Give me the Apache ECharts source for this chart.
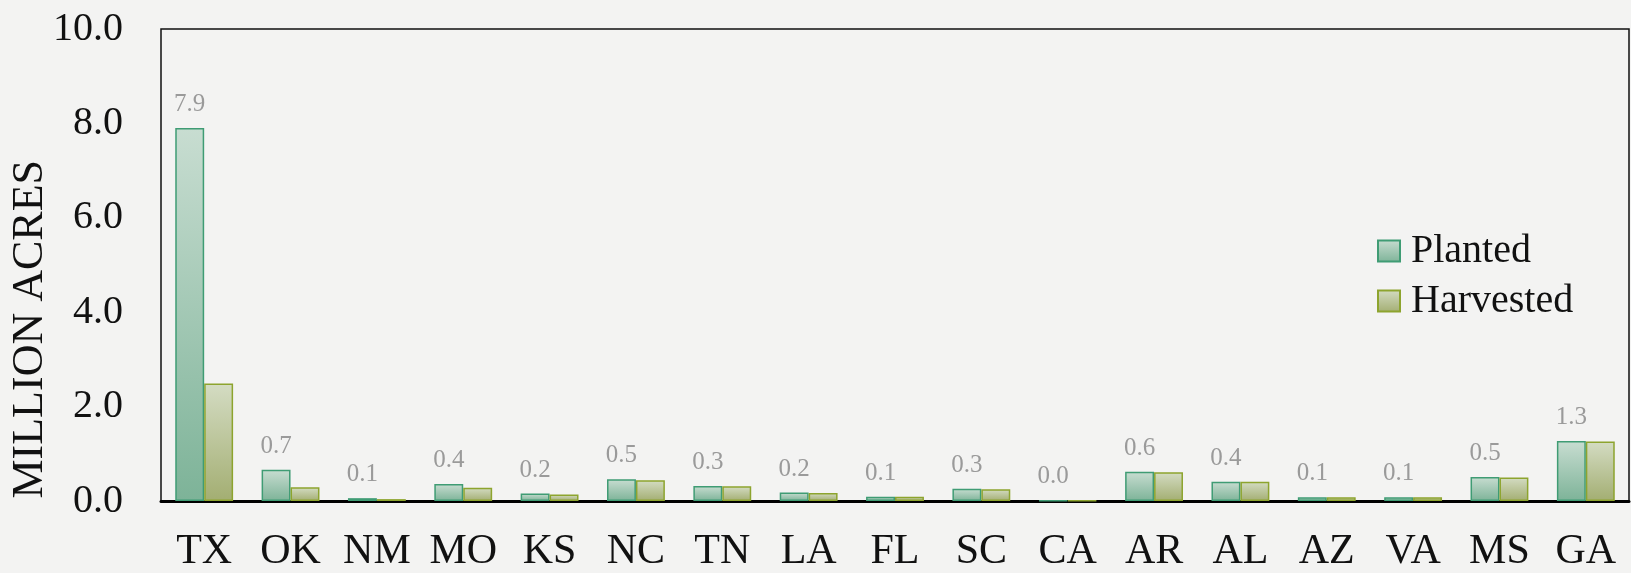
<!DOCTYPE html>
<html>
<head>
<meta charset="utf-8">
<script src="https://cdn.jsdelivr.net/npm/echarts@6/dist/echarts.min.js"></script>
<style>
  html, body { margin: 0; padding: 0; background: #f3f3f2; }
  #acres_chart { width: 1631px; height: 573px; }
</style>
</head>
<body>
<div id="acres_chart"></div>
<script>
// 各州种植 / 收获面积（百万英亩）
var states = ['TX', 'OK', 'NM', 'MO', 'KS', 'NC', 'TN', 'LA', 'FL', 'SC', 'CA', 'AR', 'AL', 'AZ', 'VA', 'MS', 'GA'];
var planted_data = [7.9, 0.66, 0.06, 0.36, 0.16, 0.46, 0.32, 0.18, 0.09, 0.26, 0.01, 0.62, 0.41, 0.08, 0.08, 0.51, 1.27];
var harvested_data = [2.49, 0.29, 0.04, 0.28, 0.14, 0.44, 0.31, 0.17, 0.09, 0.25, 0.01, 0.61, 0.41, 0.08, 0.08, 0.50, 1.26];
var y_ticks = [0, 2, 4, 6, 8, 10];

var serif = '"Liberation Serif", "DejaVu Serif", serif';

function barGradient(top, bottom) {
    return new echarts.graphic.LinearGradient(0, 0, 0, 1, [
        { offset: 0, color: top },
        { offset: 1, color: bottom }
    ]);
}

let acres_option = {
    backgroundColor: '#f3f3f2',
    animation: false,
    legend: {
        orient: 'vertical',
        left: 1372,
        top: 226,
        icon: 'rect',
        itemWidth: 22,
        itemHeight: 21,
        itemGap: 10,
        textStyle: {
            color: '#111',
            fontFamily: serif,
            fontSize: 40,
            padding: [0, 0, 0, 6]
        },
        data: ['Planted', 'Harvested']
    },
    graphic: [{
        type: 'text',
        left: 8,
        top: 160,
        rotation: Math.PI / 2,
        style: {
            text: 'MILLION ACRES',
            fill: '#111',
            font: '44px ' + serif
        }
    }],
    grid: {
        left: 161,
        right: 2,
        top: 29,
        bottom: 72,
        show: true,
        borderColor: '#111',
        borderWidth: 1.5,
        backgroundColor: 'transparent'
    },
    xAxis: {
        type: 'category',
        data: states,
        axisLine: { lineStyle: { color: '#000', width: 3 } },
        axisTick: { show: false },
        axisLabel: {
            interval: 0,
            color: '#111',
            fontFamily: serif,
            fontSize: 42,
            margin: 30
        }
    },
    yAxis: {
        type: 'value',
        min: y_ticks[0],
        max: y_ticks[y_ticks.length - 1],
        interval: 2,
        axisLine: { show: false },
        axisTick: { show: false },
        splitLine: { show: false },
        axisLabel: {
            color: '#111',
            fontFamily: serif,
            fontSize: 40,
            margin: 38,
            formatter: function (v) { return v.toFixed(1); }
        }
    },
    series: [
        {
            name: 'Planted',
            type: 'bar',
            barGap: 0,
            barCategoryGap: '33%',
            data: planted_data,
            itemStyle: {
                color: barGradient('#c8ddd1', '#7db398'),
                borderColor: '#3f9c74',
                borderWidth: 1.5
            },
            label: {
                show: true,
                position: 'top',
                distance: 11,
                color: '#9a9a9a',
                fontFamily: serif,
                fontSize: 25,
                formatter: function (p) { return p.value.toFixed(1); }
            }
        },
        {
            name: 'Harvested',
            type: 'bar',
            data: harvested_data,
            itemStyle: {
                color: barGradient('#d4dcc3', '#a3ae72'),
                borderColor: '#8da42e',
                borderWidth: 1.5
            }
        }
    ]
};

var acres_chart = echarts.init(document.getElementById('acres_chart'));
acres_chart.setOption(acres_option);
</script>
</body>
</html>
